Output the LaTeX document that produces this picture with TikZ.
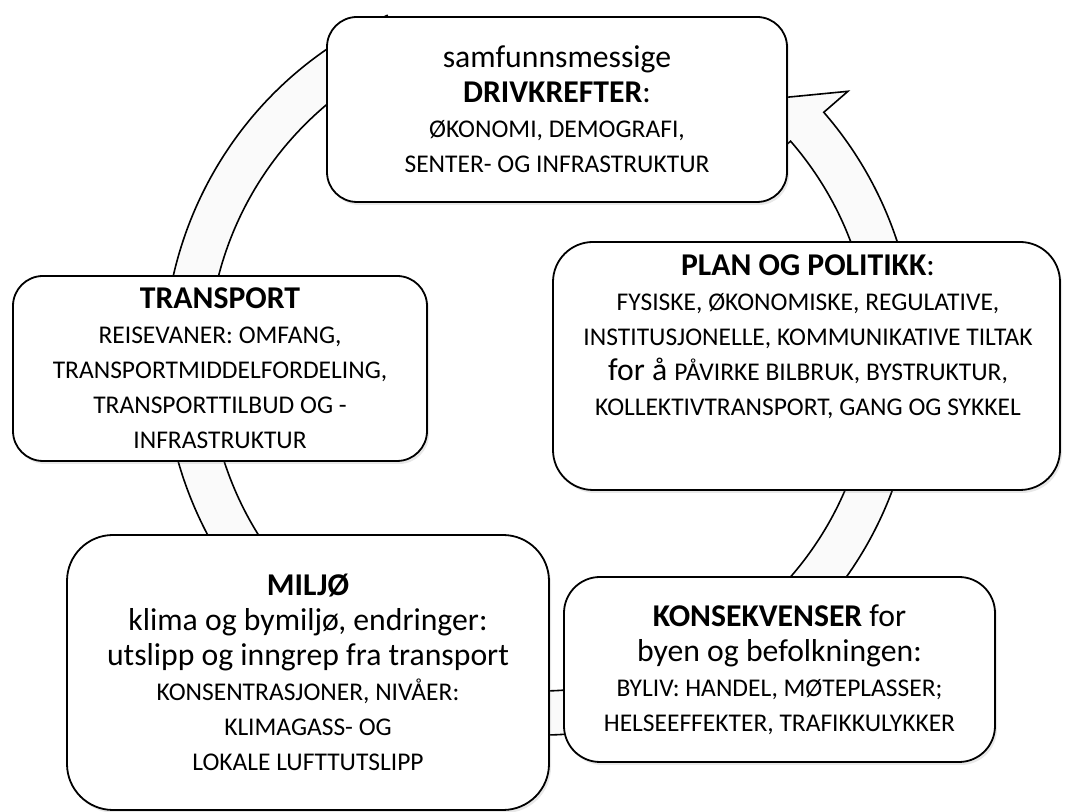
\documentclass[tikz,border=0pt]{standalone}
\usepackage{fontspec}
\setmainfont{Carlito}
\usetikzlibrary{positioning, shadows}

\newcommand{\smcap}[1]{{\fontsize{12.75pt}{17.5pt}\selectfont #1}}

\begin{document}
\begin{tikzpicture}[x=0.5pt, y=0.5pt,
        box/.style={rectangle, draw=black, line width=0.9pt, fill=white, align=center,
                    font=\fontsize{15.85pt}{17.5pt}\selectfont, inner sep=0pt,
                    drop shadow={shadow xshift=1pt, shadow yshift=-1.5pt, opacity=0.18}},
        txt/.style={align=center, font=\fontsize{15.85pt}{17.5pt}\selectfont, inner sep=0pt},
        ring/.style={draw=black, line width=0.8pt, fill=black!2},
    ]
    \useasboundingbox (0,0) rectangle (1088,812);

    % Sentrum for sirkelpila
    \coordinate (ctr) at (540,453);

    % Sirkelpil bak boksene
    \draw[ring] ([shift={(ctr)}]114:376) arc[start angle=114, end angle=401, radius=376]
        -- ([shift={(ctr)}]401:408) -- ([shift={(ctr)}]407.5:354) -- ([shift={(ctr)}]401:300)
        -- ([shift={(ctr)}]401:332) arc[start angle=401, end angle=114, radius=332] -- cycle;

    % Drivkrefter
    \node[box, minimum width=230pt, minimum height=92.5pt, rounded corners=15pt] (drivk)
        at (557,702.5)
        {samfunnsmessige\\ \textbf{DRIVKREFTER}:\\
         \smcap{ØKONOMI, DEMOGRAFI,}\\ \smcap{SENTER- OG INFRASTRUKTUR}};

    % Transport
    \node[box, minimum width=207pt, minimum height=92.5pt, rounded corners=15pt] (transport)
        at (220,443.5)
        {\textbf{TRANSPORT}\\ \smcap{REISEVANER: OMFANG,}\\ \smcap{TRANSPORTMIDDELFORDELING,}\\
         \smcap{TRANSPORTTILBUD OG -}\\ \smcap{INFRASTRUKTUR}};

    % Plan og politikk
    \node[box, minimum width=253.5pt, minimum height=124pt, rounded corners=20pt] (plan)
        at (806.5,446) {};
    \node[txt] (plantxt) at (808,475)
        {\textbf{PLAN OG POLITIKK}:\\ \smcap{FYSISKE, ØKONOMISKE, REGULATIVE,}\\
         \smcap{INSTITUSJONELLE, KOMMUNIKATIVE TILTAK}\\
         for å \smcap{PÅVIRKE BILBRUK, BYSTRUKTUR,}\\ \smcap{KOLLEKTIVTRANSPORT, GANG OG SYKKEL}};

    % Miljø
    \node[box, minimum width=241pt, minimum height=137.5pt, rounded corners=23pt] (miljo)
        at (308,139.5)
        {\textbf{MILJØ}\\ klima og bymiljø, endringer:\\ utslipp og inngrep fra transport\\
         \smcap{KONSENTRASJONER, NIVÅER:}\\ \smcap{KLIMAGASS- OG}\\ \smcap{LOKALE LUFTTUTSLIPP}};

    % Konsekvenser
    \node[box, minimum width=215.5pt, minimum height=92.5pt, rounded corners=18pt] (konsek)
        at (779.5,142.5)
        {\textbf{KONSEKVENSER} for\\ byen og befolkningen:\\
         \smcap{BYLIV: HANDEL, MØTEPLASSER;}\\ \smcap{HELSEEFFEKTER, TRAFIKKULYKKER}};
\end{tikzpicture}
\end{document}
